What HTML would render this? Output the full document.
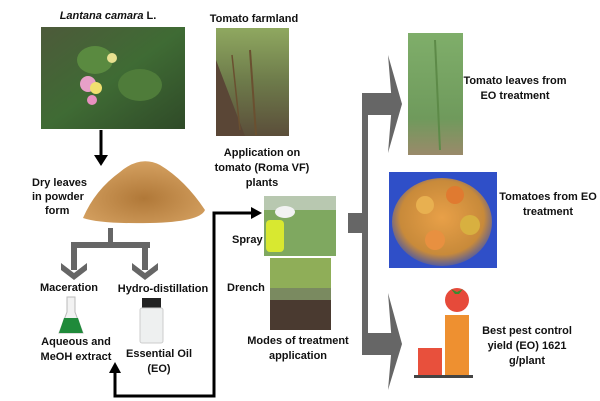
<!DOCTYPE html>
<html><head><meta charset="utf-8"><style>
html,body{margin:0;padding:0;background:#fff}
svg{display:block}
text{font-family:"Liberation Sans",sans-serif;font-weight:bold;font-size:11px;fill:#111}
</style></head><body>
<svg width="600" height="401" viewBox="0 0 600 401" xmlns="http://www.w3.org/2000/svg">
<defs>
<linearGradient id="lan" x1="0" y1="0" x2="1" y2="1"><stop offset="0" stop-color="#4d5a3a"/><stop offset="0.5" stop-color="#3f6b34"/><stop offset="1" stop-color="#2f4a28"/></linearGradient>
<linearGradient id="farm" x1="0" y1="0" x2="0" y2="1"><stop offset="0" stop-color="#8fa860"/><stop offset="0.5" stop-color="#6d7a4a"/><stop offset="1" stop-color="#5b4e3a"/></linearGradient>
<linearGradient id="leaf" x1="0" y1="0" x2="0" y2="1"><stop offset="0" stop-color="#7fae6a"/><stop offset="0.7" stop-color="#6f9a5c"/><stop offset="1" stop-color="#9a8a6a"/></linearGradient>
<radialGradient id="tom" cx="0.5" cy="0.45" r="0.6"><stop offset="0" stop-color="#e8a048"/><stop offset="0.7" stop-color="#c88a3a"/><stop offset="1" stop-color="#2d4cc0"/></radialGradient>
<radialGradient id="pow" cx="0.5" cy="0.6" r="0.6"><stop offset="0" stop-color="#b07838"/><stop offset="1" stop-color="#d4a060"/></radialGradient>
</defs>

<text x="108" y="19" text-anchor="middle"><tspan font-style="italic">Lantana camara</tspan> L.</text>
<rect x="41" y="27" width="144" height="102" fill="url(#lan)"/>
<ellipse cx="95" cy="60" rx="18" ry="14" fill="#5a8a40"/>
<ellipse cx="140" cy="85" rx="22" ry="16" fill="#4f7c3a"/>
<circle cx="88" cy="84" r="8" fill="#e7a0c8"/><circle cx="96" cy="88" r="6" fill="#f0e070"/><circle cx="92" cy="100" r="5" fill="#e890c0"/><circle cx="112" cy="58" r="5" fill="#e8e090"/>

<text x="254" y="22" text-anchor="middle">Tomato farmland</text>
<rect x="216" y="28" width="73" height="108" fill="url(#farm)"/>
<path d="M216 60 L245 136 L216 136Z" fill="#5a4636"/>
<line x1="250" y1="50" x2="256" y2="135" stroke="#6a5030" stroke-width="2"/>
<line x1="232" y1="55" x2="240" y2="130" stroke="#6a5030" stroke-width="1.5"/>

<line x1="101" y1="130" x2="101" y2="156" stroke="#000" stroke-width="3"/>
<path d="M94 155 L108 155 L101 166Z" fill="#000"/>

<path d="M83 218 Q95 190 120 172 Q140 155 160 165 Q185 180 205 210 Q200 222 150 223 Q100 224 83 218Z" fill="url(#pow)"/>
<text x="32" y="186">Dry leaves</text>
<text x="32" y="200">in powder</text>
<text x="45" y="214">form</text>

<g fill="#666">
<rect x="108" y="228" width="5" height="18"/>
<rect x="71" y="242" width="79" height="6"/>
<rect x="71" y="242" width="6" height="28"/>
<rect x="142" y="242" width="6" height="28"/>
<path d="M61 263 L74 273 L87 263 L87 270 L74 280 L61 270Z"/>
<path d="M132 263 L145 273 L158 263 L158 270 L145 280 L132 270Z"/>
</g>
<text x="69" y="291" text-anchor="middle">Maceration</text>
<text x="163" y="292" text-anchor="middle">Hydro-distillation</text>

<path d="M67 297 L75 297 L75 312 L83 333 L59 333 L67 312Z" fill="#f2f2f2" stroke="#bbb"/>
<path d="M64 318 L78 318 L83 333 L59 333Z" fill="#1f8a3a"/>
<rect x="142" y="298" width="19" height="10" fill="#222"/>
<rect x="140" y="308" width="23" height="35" rx="2" fill="#eef0f0" stroke="#ccc"/>

<text x="76" y="345" text-anchor="middle">Aqueous and</text>
<text x="76" y="360" text-anchor="middle">MeOH extract</text>
<text x="159" y="357" text-anchor="middle">Essential Oil</text>
<text x="159" y="372" text-anchor="middle">(EO)</text>

<path d="M115 372 L115 396 L214 396 L214 213 L252 213" fill="none" stroke="#000" stroke-width="3"/>
<path d="M109 373 L121 373 L115 362Z" fill="#000"/>
<path d="M251 207 L262 213 L251 219Z" fill="#000"/>

<text x="262" y="156" text-anchor="middle">Application on</text>
<text x="262" y="171" text-anchor="middle">tomato (Roma VF)</text>
<text x="262" y="186" text-anchor="middle">plants</text>
<rect x="264" y="196" width="72" height="60" fill="#7fa860"/>
<rect x="264" y="196" width="72" height="14" fill="#b8c8b0"/>
<rect x="266" y="220" width="18" height="32" rx="4" fill="#d8e830"/>
<ellipse cx="285" cy="212" rx="10" ry="6" fill="#f2f2f2"/>
<text x="232" y="243">Spray</text>
<rect x="270" y="258" width="61" height="72" fill="#7a8a60"/>
<rect x="270" y="258" width="61" height="30" fill="#8fae58"/>
<rect x="270" y="300" width="61" height="30" fill="#4a3a30"/>
<text x="227" y="291">Drench</text>
<text x="298" y="344" text-anchor="middle">Modes of treatment</text>
<text x="298" y="359" text-anchor="middle">application</text>

<g fill="#666">
<rect x="348" y="213" width="20" height="20"/>
<rect x="362" y="93" width="6" height="262"/>
<rect x="362" y="93" width="32" height="22"/>
<rect x="362" y="333" width="32" height="22"/>
<path d="M388 55 L402 104 L388 153 L392 104Z"/>
<path d="M388 293 L402 344 L388 390 L392 344Z"/>
</g>

<rect x="408" y="33" width="55" height="122" fill="url(#leaf)"/>
<line x1="435" y1="40" x2="440" y2="150" stroke="#5d8a48" stroke-width="2"/>
<text x="515" y="84" text-anchor="middle">Tomato leaves from</text>
<text x="515" y="99" text-anchor="middle">EO treatment</text>

<rect x="389" y="172" width="108" height="96" fill="#2f4fc8"/>
<ellipse cx="442" cy="222" rx="50" ry="44" fill="url(#tom)"/>
<circle cx="425" cy="205" r="9" fill="#e8b050"/><circle cx="455" cy="195" r="9" fill="#e07a30"/><circle cx="470" cy="225" r="10" fill="#d8b040"/><circle cx="435" cy="240" r="10" fill="#e89040"/>
<text x="548" y="200" text-anchor="middle">Tomatoes from EO</text>
<text x="548" y="215" text-anchor="middle">treatment</text>

<rect x="418" y="348" width="24" height="28" fill="#e8503c"/>
<rect x="445" y="315" width="24" height="61" fill="#ee9030"/>
<rect x="414" y="375" width="59" height="3" fill="#444"/>
<circle cx="457" cy="300" r="12" fill="#e64a3a"/>
<path d="M451 289 L457 292 L463 289 L459 294 L455 294Z" fill="#3a8a30"/>
<text x="527" y="334" text-anchor="middle">Best pest control</text>
<text x="527" y="349" text-anchor="middle">yield (EO) 1621</text>
<text x="527" y="364" text-anchor="middle">g/plant</text>
</svg>
</body></html>
